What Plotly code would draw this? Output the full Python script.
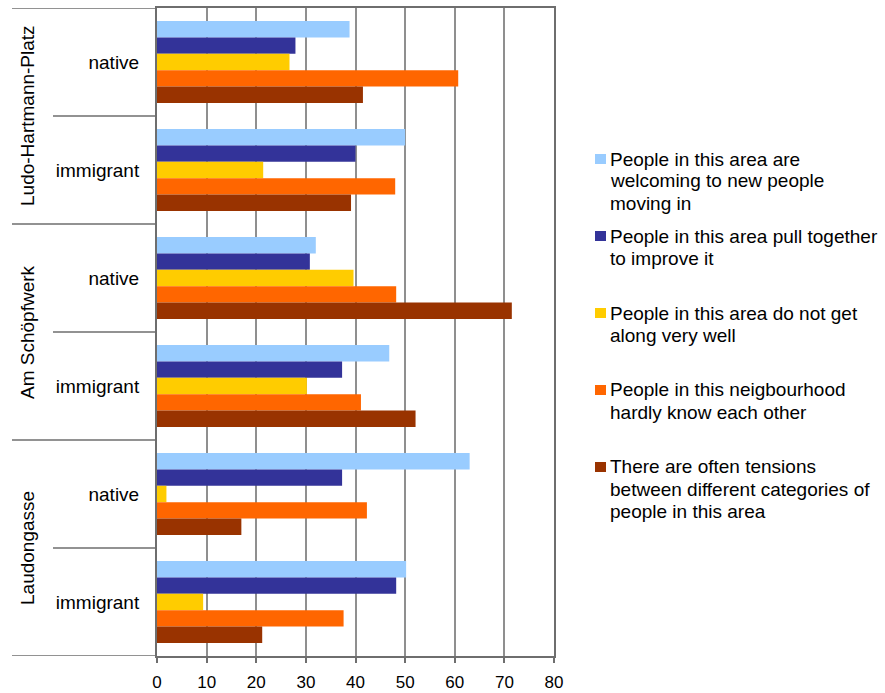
import plotly.graph_objects as go

# ---------------- data ----------------
sites = ["Ludo-Hartmann-Platz", "Am Schöpfwerk", "Laudongasse"]
groups = ["native", "immigrant"]

series_lines = [
    ["People in this area are", "welcoming to new people", "moving in"],
    ["People in this area pull together", "to improve it"],
    ["People in this area do not get", "along very well"],
    ["People in this neigbourhood", "hardly know each other"],
    ["There are often tensions", "between different categories of", "people in this area"],
]

# values ordered: LHP native, LHP immigrant, AS native, AS immigrant, Laud native, Laud immigrant
welcoming = [38.8, 50.0, 32.0, 46.8, 63.0, 50.2]
pull_together = [27.9, 40.0, 30.8, 37.3, 37.3, 48.2]
not_get_along = [26.7, 21.4, 39.6, 30.2, 1.9, 9.3]
hardly_know = [60.7, 48.0, 48.2, 41.1, 42.3, 37.6]
tensions = [41.5, 39.1, 71.5, 52.1, 17.0, 21.2]

x_ticks = [0, 10, 20, 30, 40, 50, 60, 70, 80]

series_values = [welcoming, pull_together, not_get_along, hardly_know, tensions]
colors = ["#99CCFF", "#333399", "#FFCC00", "#FF6600", "#993300"]

# ---------------- layout helpers ----------------
W, H = 885, 693
L, R, T, B = 157, 554, 8, 656


def px_x(x):
    return (x - L) / (R - L)


def px_y(y):
    return (B - y) / (B - T)


cat_keys = [f"{s}|{g}" for s in sites for g in groups]
cat_text = [g for s in sites for g in groups]

FONT = "Liberation Sans, Arial, sans-serif"
FS = 19

fig = go.Figure()
for lines, vals, col in zip(series_lines, series_values, colors):
    fig.add_trace(go.Bar(
        y=cat_keys, x=vals, orientation="h",
        name=" ".join(lines),
        marker=dict(color=col, line=dict(width=0)),
        showlegend=False,
    ))

shapes = []
# site dividers (long) and sub dividers (short) on the left
for b in [-0.5, 1.5, 3.5, 5.5]:
    shapes.append(dict(type="line", xref="paper", yref="y",
                       x0=px_x(12), x1=0, y0=b, y1=b,
                       line=dict(color="#6e6e6e", width=1.5)))
for b in [0.5, 2.5, 4.5]:
    shapes.append(dict(type="line", xref="paper", yref="y",
                       x0=px_x(53), x1=0, y0=b, y1=b,
                       line=dict(color="#6e6e6e", width=1.5)))

annotations = []
# site labels (rotated)
for i, s in enumerate(sites):
    annotations.append(dict(
        text=s, xref="paper", yref="y", x=px_x(27), y=2 * i + 0.5,
        textangle=-90, showarrow=False, xanchor="center", yanchor="middle",
        font=dict(family=FONT, size=FS, color="#000000")))

# manual legend
first_line_y = [159, 236, 313, 390, 467]
line_h = 22
for lines, col, y0 in zip(series_lines, colors, first_line_y):
    shapes.append(dict(type="rect", xref="paper", yref="paper",
                       x0=px_x(595), x1=px_x(606), y0=px_y(y0 + 5), y1=px_y(y0 - 5),
                       fillcolor=col, line=dict(width=0)))
    for k, txt in enumerate(lines):
        annotations.append(dict(
            text=txt, xref="paper", yref="paper", x=px_x(608), y=px_y(y0 + k * line_h),
            showarrow=False, xanchor="left", yanchor="middle",
            font=dict(family=FONT, size=FS, color="#000000")))

fig.update_layout(
    width=W, height=H,
    margin=dict(l=L, r=W - R, t=T, b=H - B, pad=0, autoexpand=False),
    paper_bgcolor="white", plot_bgcolor="white",
    barmode="group", bargap=0.24, bargroupgap=0,
    font=dict(family=FONT, size=FS, color="#000000"),
    xaxis=dict(
        range=[0, 80], tickvals=x_ticks, ticktext=[str(v) for v in x_ticks],
        showgrid=True, gridcolor="#8f8f8f", gridwidth=1.5,
        showline=True, linecolor="#6e6e6e", linewidth=2, mirror=True,
        ticks="outside", ticklen=5, tickcolor="#6e6e6e", tickwidth=1.5,
        ticklabelstandoff=5, zeroline=False, automargin=False,
        tickfont=dict(family=FONT, size=17, color="#000000"),
    ),
    yaxis=dict(
        type="category", categoryarray=cat_keys, categoryorder="array",
        range=[5.5, -0.5],
        tickvals=cat_keys, ticktext=cat_text,
        showgrid=False, showline=True, linecolor="#6e6e6e", linewidth=2, mirror=True,
        ticks="", ticklabelstandoff=12, automargin=False,
        tickfont=dict(family=FONT, size=FS, color="#000000"),
    ),
    shapes=shapes, annotations=annotations,
)

fig.write_html("out.html")
